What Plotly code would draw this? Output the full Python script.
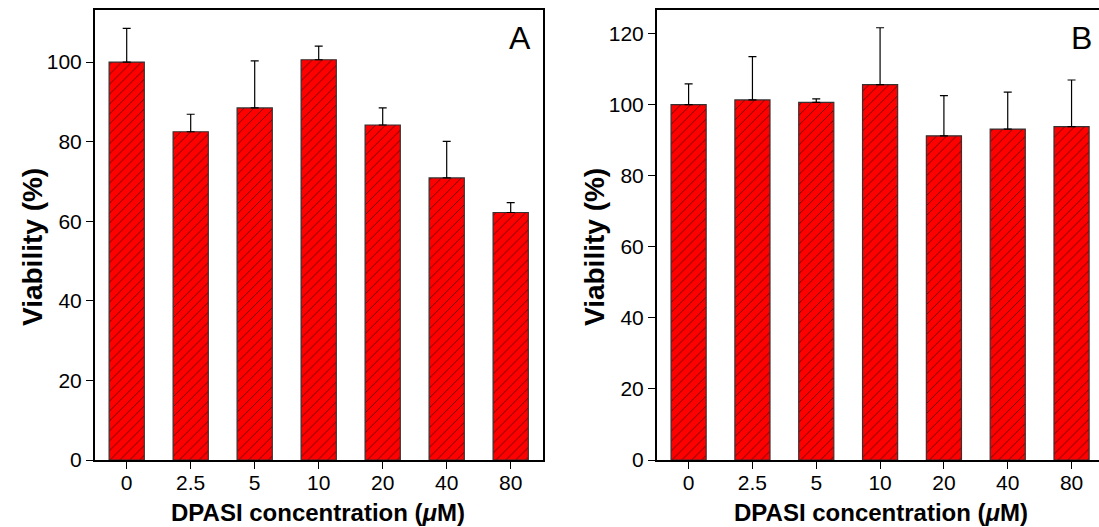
import plotly.graph_objects as go

categories = ["0", "2.5", "5", "10", "20", "40", "80"]
viability_a = [100.0, 82.5, 88.5, 100.6, 84.2, 70.9, 62.2]
error_a = [8.5, 4.4, 11.8, 3.4, 4.3, 9.2, 2.5]
viability_b = [100.0, 101.3, 100.6, 105.6, 91.2, 93.1, 93.8]
error_b = [5.8, 12.2, 1.0, 16.0, 11.3, 10.4, 13.1]

W, H = 1099, 527
T, B = 10, 67
PLOT_H = H - T - B
FONT = "Liberation Sans, Arial, sans-serif"

fig = go.Figure()

def add_bars(y, err, xa, ya):
    fig.add_trace(go.Bar(
        x=list(range(len(categories))), y=y, width=0.55,
        xaxis=xa, yaxis=ya,
        marker=dict(color="#ff0000",
                    line=dict(color="#333333", width=1.2),
                    pattern=dict(shape="/", fgcolor="#000000", bgcolor="#ff0000",
                                 size=7, solidity=0.08, fillmode="replace")),
        error_y=dict(type="data", array=err, symmetric=False, arrayminus=[0]*len(err),
                     color="#000000", thickness=1.2, width=4),
        showlegend=False))

add_bars(viability_a, error_a, "x", "y")
add_bars(viability_b, error_b, "x2", "y2")

axis_common = dict(showline=True, linecolor="#000000", linewidth=1.5,
                   ticks="outside", ticklen=7, tickwidth=1.2, tickcolor="#000000",
                   showgrid=False, zeroline=False,
                   tickfont=dict(family=FONT, size=21, color="#000000"))

xtitle = "<b>DPASI concentration (</b><b><i>μ</i></b><b>M)</b>"
ytitle = "<b>Viability (%)</b>"

fig.update_layout(
    width=W, height=H,
    margin=dict(l=0, r=0, t=T, b=B),
    paper_bgcolor="#ffffff", plot_bgcolor="#ffffff",
    bargap=0.45,
    xaxis=dict(domain=[94.7/W, 542.7/W], range=[-0.5, 6.5], mirror=True,
               tickmode="array", tickvals=list(range(7)), ticktext=categories,
               ticklabelstandoff=-4, anchor="y", **axis_common),
    yaxis=dict(range=[0, 113.1], mirror=True, tickmode="array",
               tickvals=[0, 20, 40, 60, 80, 100], anchor="x", **axis_common),
    xaxis2=dict(domain=[656.7/W, 1.0], range=[-0.5, 6.43], mirror=True,
                tickmode="array", tickvals=list(range(7)), ticktext=categories,
                ticklabelstandoff=-4, anchor="y2", **axis_common),
    yaxis2=dict(range=[0, 126.6], mirror=False, tickmode="array",
                tickvals=[0, 20, 40, 60, 80, 100, 120], anchor="x2", **axis_common),
)

def px_ann(text, x, y, size, angle=0):
    fig.add_annotation(text=text, x=x / W, y=1 - (y - T) / PLOT_H,
                       xref="paper", yref="paper", showarrow=False,
                       xanchor="center", yanchor="middle", textangle=angle,
                       font=dict(family=FONT, size=size, color="#000000"))

px_ann("A", 520, 38, 32)
px_ann("B", 1081, 38, 32)
px_ann(xtitle, 318, 512, 24)
px_ann(xtitle, 881, 512, 24)
px_ann(ytitle, 33, 247, 28, angle=-90)
px_ann(ytitle, 595, 247, 28, angle=-90)

fig.write_html("out.html")
